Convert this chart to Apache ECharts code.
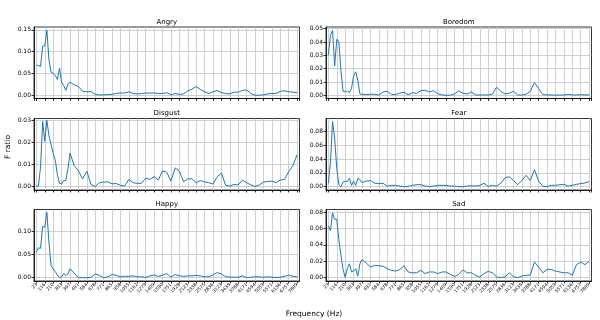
<!DOCTYPE html>
<html>
<head>
<meta charset="utf-8">
<title>F ratio by frequency</title>
<style>
* { margin: 0; padding: 0; }
#chart { width: 600px; height: 320px; }
</style>
<script src="https://cdn.jsdelivr.net/npm/echarts@6/dist/echarts.min.js"></script>
</head>
<body>
<div id="chart"></div>
<script>
// tick labels on the frequency axis (Hz)
var freqLabels = ['23', '116', '210', '303', '397', '491', '584', '678', '771', '865', '958',
  '1055', '1162', '1279', '1409', '1590', '1751', '1928', '2123', '2338', '2575', '2836',
  '3123', '3439', '3788', '4171', '4594', '5059', '5571', '6136', '6757', '7809'];

// F ratio values: first 16 at quarter-tick steps, then half-tick steps from tick 4 to 31
var angry = [0.069, 0.068, 0.066, 0.113, 0.113, 0.149, 0.080, 0.053, 0.050, 0.045, 0.036, 0.062, 0.030, 0.022, 0.011, 0.026,
  0.030, 0.024, 0.020, 0.009, 0.008, 0.008, 0.002, 0.0005, 0.001, 0.0015, 0.002, 0.004, 0.005, 0.005, 0.008, 0.004,
  0.003, 0.004, 0.005, 0.005, 0.005, 0.004, 0.004, 0.006, 0.001, 0.004, 0.002, 0.003, 0.010, 0.014, 0.020, 0.013,
  0.008, 0.004, 0.008, 0.011, 0.006, 0.004, 0.003, 0.007, 0.007, 0.011, 0.012, 0.004, 0.000, 0.000, 0.001, 0.003,
  0.004, 0.004, 0.009, 0.010, 0.008, 0.007, 0.006];
var boredom = [0.030, 0.045, 0.0488, 0.022, 0.042, 0.040, 0.018, 0.003, 0.0025, 0.0033, 0.002, 0.005, 0.0145, 0.0176, 0.011, 0.001,
  0.0008, 0.0005, 0.0008, 0.0008, 0.0002, 0.0025, 0.003, 0.0007, 0.0005, 0.0017, 0.0022, 0.0005, 0.0019, 0.0015, 0.0035, 0.0038,
  0.0025, 0.0035, 0.0012, 0.0003, 0.0000, 0.0001, 0.001, 0.0033, 0.0015, 0.001, 0.0025, 0.0003, 0.0002, 0.0003, 0.0003, 0.0008,
  0.006, 0.003, 0.001, 0.0015, 0.003, 0.0003, 0.0002, 0.0008, 0.003, 0.0095, 0.005, 0.0005, 0.0003, 0.0002, 0.0002, 0.0002,
  0.0002, 0.0007, 0.0003, 0.0002, 0.0005, 0.0003, 0.0003];
var disgust = [0.0003, 0.0002, 0.009, 0.0295, 0.0205, 0.030, 0.023, 0.019, 0.015, 0.012, 0.0055, 0.0015, 0.0012, 0.0028, 0.0028, 0.008,
  0.0152, 0.0095, 0.0072, 0.0035, 0.007, 0.001, 0.0001, 0.0018, 0.0021, 0.0022, 0.0013, 0.0014, 0.0006, 0.0003, 0.0033, 0.0018,
  0.0015, 0.0015, 0.0038, 0.0033, 0.0045, 0.003, 0.0072, 0.0065, 0.0025, 0.0085, 0.007, 0.0022, 0.0035, 0.0036, 0.0017, 0.0028,
  0.0021, 0.0018, 0.0012, 0.0045, 0.0062, 0.0006, 0.0003, 0.001, 0.0008, 0.003, 0.0018, 0.0008, 0.0001, 0.0008, 0.0021, 0.0023,
  0.0025, 0.0018, 0.003, 0.0033, 0.0068, 0.0095, 0.0145];
var fear = [0.005, 0.035, 0.094, 0.070, 0.026, 0.003, 0.0, 0.0067, 0.008, 0.0075, 0.012, 0.002, 0.008, 0.002, 0.012, 0.0105,
  0.006, 0.008, 0.009, 0.005, 0.0045, 0.005, 0.0008, 0.002, 0.002, 0.001, 0.0, 0.0005, 0.002, 0.003, 0.003, 0.001,
  0.0, 0.001, 0.002, 0.002, 0.002, 0.001, 0.001, 0.0, 0.0, 0.001, 0.0015, 0.001, 0.002, 0.005, 0.0005, 0.002,
  0.001, 0.005, 0.013, 0.0145, 0.009, 0.003, 0.009, 0.0165, 0.009, 0.0245, 0.008, 0.0005, 0.0, 0.002, 0.002, 0.003,
  0.0035, 0.001, 0.002, 0.0035, 0.0045, 0.0055, 0.0075];
var happy = [0.055, 0.064, 0.063, 0.110, 0.108, 0.140, 0.075, 0.026, 0.019, 0.013, 0.006, 0.0005, 0.0015, 0.009, 0.005, 0.008,
  0.019, 0.010, 0.0005, 0.0, 0.0, 0.001, 0.008, 0.005, 0.0, 0.002, 0.007, 0.005, 0.002, 0.003, 0.003, 0.004,
  0.002, 0.002, 0.0005, 0.004, 0.006, 0.003, 0.005, 0.009, 0.001, 0.007, 0.004, 0.003, 0.004, 0.004, 0.005, 0.004,
  0.002, 0.002, 0.006, 0.011, 0.008, 0.002, 0.0015, 0.001, 0.001, 0.004, 0.0005, 0.001, 0.002, 0.002, 0.001, 0.002,
  0.001, 0.0005, 0.001, 0.003, 0.006, 0.003, 0.002];
var sad = [0.063, 0.057, 0.079, 0.071, 0.071, 0.046, 0.027, 0.010, 0.0005, 0.011, 0.017, 0.007, 0.008, 0.011, 0.002, 0.017,
  0.022, 0.018, 0.013, 0.015, 0.0145, 0.014, 0.011, 0.009, 0.008, 0.010, 0.0145, 0.007, 0.006, 0.006, 0.009, 0.005,
  0.007, 0.007, 0.005, 0.007, 0.007, 0.004, 0.0015, 0.004, 0.0095, 0.006, 0.006, 0.0028, 0.001, 0.005, 0.0078, 0.006,
  0.001, 0.0, 0.001, 0.006, 0.0012, 0.0, 0.002, 0.003, 0.003, 0.019, 0.013, 0.006, 0.010, 0.010, 0.008, 0.007,
  0.006, 0.006, 0.003, 0.016, 0.019, 0.016, 0.020];

// x position (in tick units) of each value above
var samplePos = [];
for (var j = 0; j < 16; j++) samplePos.push(j * 0.25);
for (var k = 8; k <= 62; k++) samplePos.push(k * 0.5);

var panels = [
  {name: 'Angry', values: angry, left: 34, top: 27, yMin: -0.0075, yMax: 0.1565, split: 3},
  {name: 'Boredom', values: boredom, left: 326, top: 27, yMin: -0.0024, yMax: 0.0512, split: 5},
  {name: 'Disgust', values: disgust, left: 34, top: 118.5, yMin: -0.0015, yMax: 0.0308, split: 3},
  {name: 'Fear', values: fear, left: 326, top: 118.5, yMin: -0.0047, yMax: 0.0985, split: 5},
  {name: 'Happy', values: happy, left: 34, top: 209.5, yMin: -0.007, yMax: 0.146, split: 3},
  {name: 'Sad', values: sad, left: 326, top: 209.5, yMin: -0.004, yMax: 0.083, split: 4}
];
var W = 265.5, H = 71.5;
var FONT = 'DejaVu Sans';

var chart = echarts.init(document.getElementById('chart'), null, {renderer: 'canvas'});

var grids = [], xAxes = [], yAxes = [], series = [], texts = [];
panels.forEach(function (p, i) {
  var bottomRow = i >= 4;
  grids.push({left: p.left, top: p.top, width: W, height: H, show: true,
    borderColor: '#000', borderWidth: 0.8, containLabel: false});
  xAxes.push({
    type: 'value', gridIndex: i, min: -0.28, max: 31.28, splitNumber: 31,
    axisLine: {show: true, onZero: false, lineStyle: {color: '#000', width: 0.8}},
    axisTick: {show: true, length: 2.5, lineStyle: {color: '#000', width: 0.8}},
    splitLine: {show: true, showMinLine: false, showMaxLine: false, lineStyle: {color: '#c4c4c4', width: 0.8}},
    axisLabel: {
      show: bottomRow, rotate: 45, fontSize: 4.5, margin: 3, color: '#000', fontFamily: FONT,
      showMinLabel: false, showMaxLabel: false,
      formatter: function (v) { var n = Math.round(v); return Math.abs(v - n) < 1e-6 ? (freqLabels[n] || '') : ''; }
    }
  });
  yAxes.push({
    type: 'value', gridIndex: i, min: p.yMin, max: p.yMax, splitNumber: p.split,
    axisLine: {show: true, onZero: false, lineStyle: {color: '#000', width: 0.8}},
    axisTick: {show: true, length: 2.5, lineStyle: {color: '#000', width: 0.8}},
    splitLine: {show: true, showMinLine: false, showMaxLine: false, lineStyle: {color: '#c4c4c4', width: 0.8}},
    axisLabel: {
      fontSize: 6, margin: 3, color: '#000', fontFamily: FONT,
      showMinLabel: false, showMaxLabel: false,
      formatter: function (v) { return v.toFixed(2); }
    }
  });
  series.push({
    type: 'line', xAxisIndex: i, yAxisIndex: i, showSymbol: false, animation: false,
    lineStyle: {color: '#1f77b4', width: 1},
    data: samplePos.map(function (x, n) { return [x, p.values[n]]; })
  });
  texts.push({
    type: 'text', x: p.left + W / 2, y: p.top - 5,
    style: {text: p.name, fill: '#000', font: '7px "' + FONT + '"', textAlign: 'center', textVerticalAlign: 'middle'}
  });
});

texts.push({
  type: 'text', x: 8, y: 147, rotation: Math.PI / 2,
  style: {text: 'F ratio', fill: '#000', font: '7.5px "' + FONT + '"', textAlign: 'center', textVerticalAlign: 'middle'}
});
texts.push({
  type: 'text', x: 314, y: 314,
  style: {text: 'Frequency (Hz)', fill: '#000', font: '7.5px "' + FONT + '"', textAlign: 'center', textVerticalAlign: 'middle'}
});

chart.setOption({
  animation: false,
  backgroundColor: '#fff',
  grid: grids,
  xAxis: xAxes,
  yAxis: yAxes,
  series: series,
  graphic: texts
});
</script>
</body>
</html>
